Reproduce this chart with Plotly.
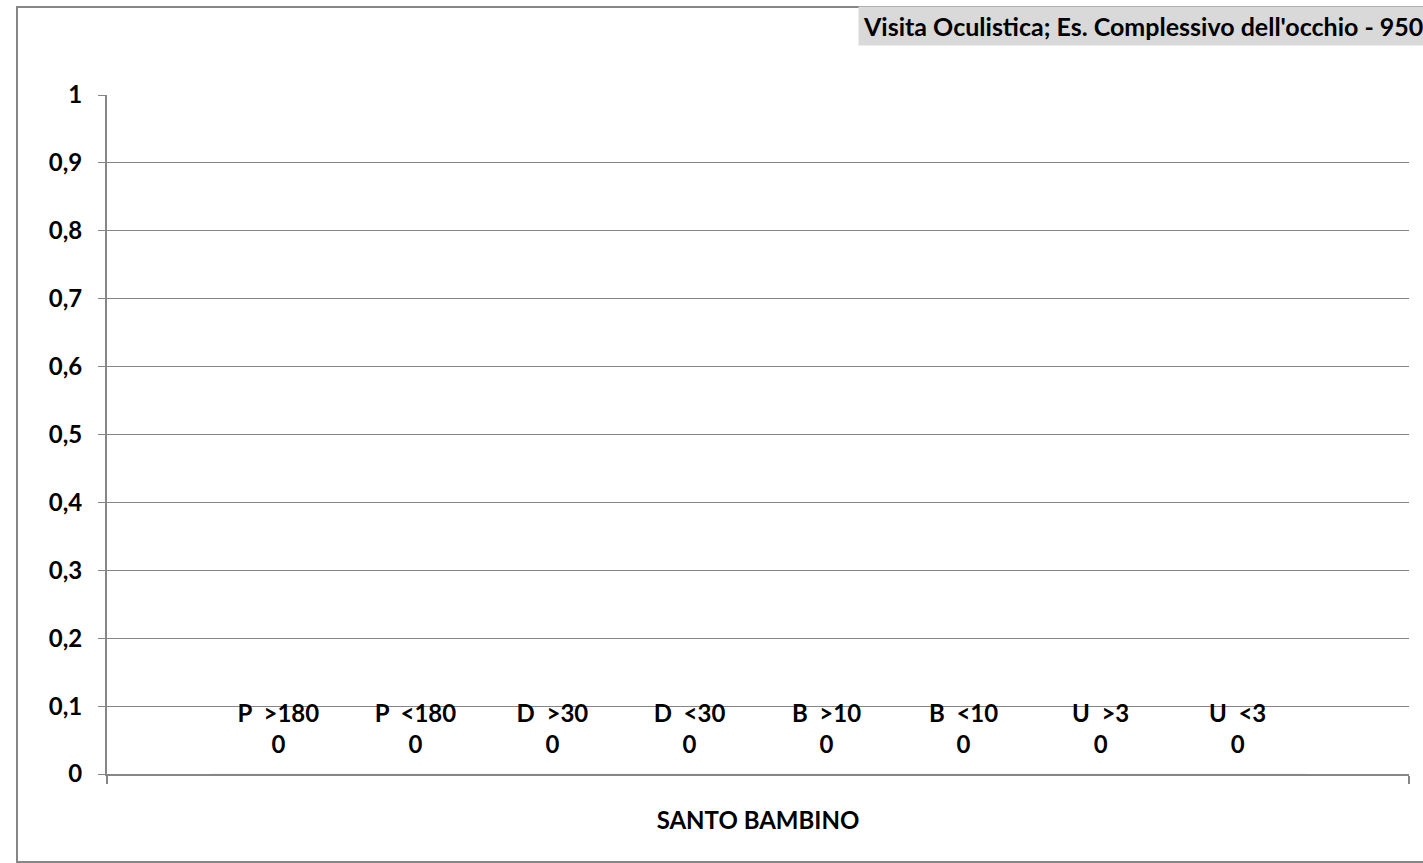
import plotly.graph_objects as go

category = ["SANTO BAMBINO"]
series_names = ["P  >180", "P  <180", "D  >30", "D  <30", "B  >10", "B  <10", "U  >3", "U  <3"]
series_values = [0, 0, 0, 0, 0, 0, 0, 0]
series_colors = ["#4F81BD", "#C0504D", "#9BBB59", "#8064A2", "#4BACC6", "#F79646", "#2C4D75", "#772C2A"]
y_ticks = [0, 0.1, 0.2, 0.3, 0.4, 0.5, 0.6, 0.7, 0.8, 0.9, 1]
title_text = "Visita Oculistica; Es. Complessivo dell'occhio - 95021"

FONT = "Lato"
W, H = 1423, 863
ML, MR, MT, MB = 107, 14, 95, 89
PW, PH = W - ML - MR, H - MT - MB
GAP = 0.158

def px_x(p):
    return (p - ML) / PW

def px_y(p):
    return (H - MB - p) / PH

fig = go.Figure()
for name, val, col in zip(series_names, series_values, series_colors):
    fig.add_trace(go.Bar(
        x=category, y=[val], name=name, marker_color=col, offsetgroup=name,
    ))
for name, val in zip(series_names, series_values):
    fig.add_trace(go.Scatter(
        x=category, y=[val], name=name, offsetgroup=name,
        mode="markers+text", marker=dict(size=22, opacity=0),
        text=[name.replace(" ", "\u00a0") + "<br>" + str(val)],
        textposition="top center", cliponaxis=False, showlegend=False,
        textfont=dict(family=FONT, size=24, color="#000000", weight="bold"),
    ))

fig.update_layout(
    width=W, height=H,
    margin=dict(l=ML, r=MR, t=MT, b=MB),
    paper_bgcolor="white", plot_bgcolor="white",
    barmode="group", bargap=GAP, bargroupgap=0,
    scattermode="group", scattergap=GAP,
    showlegend=False,
    separators=",.",
    font=dict(family=FONT, size=24, color="#000000", weight="bold"),
    xaxis=dict(
        showgrid=False, showline=True, linecolor="#868686", linewidth=2,
        ticks="outside", tickson="boundaries", ticklen=8, tickcolor="#868686", tickwidth=2,
        ticklabelstandoff=24,
        tickfont=dict(family=FONT, size=24, color="#000000", weight="bold"),
    ),
    yaxis=dict(
        range=[0, 1], tickvals=y_ticks,
        showgrid=True, gridcolor="#868686", gridwidth=1,
        showline=True, linecolor="#868686", linewidth=2,
        ticks="outside", ticklen=7, tickcolor="#868686", tickwidth=1,
        ticklabelstandoff=11, zeroline=False,
        tickfont=dict(family=FONT, size=24, color="#000000", weight="bold"),
    ),
    shapes=[dict(
        type="rect", xref="paper", yref="paper",
        x0=px_x(17), x1=px_x(1700), y0=px_y(862), y1=px_y(7),
        line=dict(color="#868686", width=2), fillcolor="rgba(0,0,0,0)", layer="below",
    )],
    annotations=[dict(
        text=title_text, xref="paper", yref="paper",
        x=px_x(858), y=px_y(26), xanchor="left", yanchor="middle",
        showarrow=False, bgcolor="#D9D9D9", borderpad=4,
        font=dict(family=FONT, size=25, color="#000000", weight="bold"),
    )],
)

fig.write_html("out.html", config={"displayModeBar": False},
               post_script="document.body.style.margin='0';")
